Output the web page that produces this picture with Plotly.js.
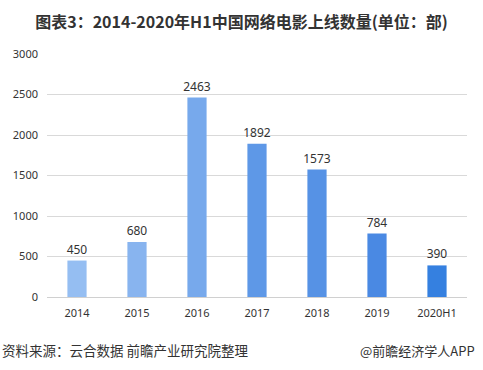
<!DOCTYPE html>
<html><head><meta charset="utf-8">
<script src="https://cdn.plot.ly/plotly-3.0.1.min.js"></script>
<style>html,body{margin:0;padding:0;background:#fff;}#c{width:483px;height:370px;}</style>
</head><body><div id="c"></div>
<script>
var categories = ["2014","2015","2016","2017","2018","2019","2020H1"];
var values = [450, 680, 2463, 1892, 1573, 784, 390];
var barColors = ["#95BEF2","#88B4EF","#77A9EC","#5E98E7","#5692E5","#4A89E3","#3580E0"];
var yTicks = [0,500,1000,1500,2000,2500,3000];

var trace = {
  type: "bar", x: categories, y: values,
  marker: {color: barColors},
  width: 0.32,
  text: values.map(String), textposition: "outside", constraintext: "none",
  textfont: {family: "Noto Sans, DejaVu Sans, sans-serif", size: 12, color: "#333"},
  cliponaxis: false, hoverinfo: "none"
};
var layout = {
  width: 483, height: 370,
  margin: {l: 47, r: 16, t: 54, b: 73},
  paper_bgcolor: "#fff", plot_bgcolor: "#fff",
  showlegend: false,
  title: {text: "<b>图表3：2014-2020年H1中国网络电影上线数量(单位：部)</b>",
    font: {family: "Noto Sans CJK SC, sans-serif", size: 16, color: "#333"},
    x: 0.5, xanchor: "center", y: 0.94, yanchor: "middle"},
  xaxis: {type: "category", showgrid: false, zeroline: false, showline: false,
    ticks: "", ticklabelstandoff: 8,
    tickfont: {family: "Noto Sans, DejaVu Sans, sans-serif", size: 11, color: "#333"}},
  yaxis: {range: [0, 3000], tickvals: yTicks, ticktext: yTicks.map(String),
    showgrid: true, gridcolor: "#d9d9d9", gridwidth: 1, zeroline: true, zerolinecolor: "#d0d0d0",
    showline: false, ticks: "", ticklabelstandoff: 8,
    tickfont: {family: "Noto Sans, DejaVu Sans, sans-serif", size: 11, color: "#333"}},
  annotations: [
    {text: "资料来源：云合数据 前瞻产业研究院整理", xref: "paper", yref: "paper",
     x: -47/420, y: -0.22, xanchor: "left", yanchor: "middle", showarrow: false,
     font: {family: "Noto Sans CJK SC, sans-serif", size: 13.5, color: "#333"}},
    {text: "@前瞻经济学人APP", xref: "paper", yref: "paper",
     x: 1.025, y: -0.22, xanchor: "right", yanchor: "middle", showarrow: false,
     font: {family: "Noto Sans CJK SC, sans-serif", size: 13, color: "#333"}}
  ]
};
Plotly.newPlot("c", [trace], layout, {displayModeBar: false, staticPlot: true});
</script></body></html>
